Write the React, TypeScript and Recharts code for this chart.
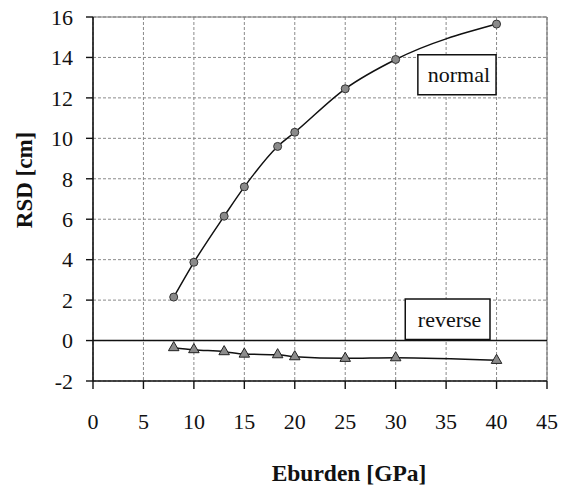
import React from 'react';
import {
  LineChart,
  Line,
  XAxis,
  YAxis,
  CartesianGrid,
  ReferenceLine,
  ReferenceArea,
  Symbols,
} from 'recharts';

const eburden = [8, 10, 13, 15, 18.3, 20, 25, 30, 40];
const normalRsd = [2.15, 3.87, 6.15, 7.6, 9.6, 10.3, 12.45, 13.9, 15.65];
const reverseRsd = [-0.35, -0.45, -0.55, -0.67, -0.7, -0.8, -0.88, -0.85, -0.98];
const xTicks = [0, 5, 10, 15, 20, 25, 30, 35, 40, 45];
const yTicks = [-2, 0, 2, 4, 6, 8, 10, 12, 14, 16];
const xTitle = 'Eburden [GPa]';
const yTitle = 'RSD [cm]';

const data = eburden.map((x, i) => ({ x, normal: normalRsd[i], reverse: reverseRsd[i] }));

const SERIF =
  '"Liberation Serif", "Times New Roman", Times, "DejaVu Serif", serif';

const TriangleDot = (props: any) => {
  const { cx, cy, index } = props;
  if (cx == null || cy == null) return <g key={index} />;
  return (
    <Symbols
      key={index}
      cx={cx}
      cy={cy}
      type="triangle"
      size={48}
      fill="#8c8c8c"
      stroke="#222"
      strokeWidth={1}
    />
  );
};

const boxLabel = (text: string) => (props: any) => {
  const vb = props.viewBox;
  return (
    <text
      x={vb.x + vb.width / 2 + 2}
      y={vb.y + vb.height / 2}
      textAnchor="middle"
      dominantBaseline="central"
      fontFamily={SERIF}
      fontSize={22}
      fill="#111"
    >
      {text}
    </text>
  );
};

const XTitle = (props: any) => {
  const vb = props.viewBox;
  return (
    <text
      x={vb.x + vb.width / 2 + 29}
      y={vb.y + vb.height - 5}
      textAnchor="middle"
      fontFamily={SERIF}
      fontWeight="bold"
      fontSize={23.5}
      fill="#111"
    >
      {xTitle}
    </text>
  );
};

const YTitle = (props: any) => {
  const vb = props.viewBox;
  const x = vb.x + 24;
  const y = vb.y + vb.height / 2 - 19;
  return (
    <text
      x={x}
      y={y}
      transform={`rotate(-90, ${x}, ${y})`}
      textAnchor="middle"
      dominantBaseline="central"
      fontFamily={SERIF}
      fontWeight="bold"
      fontSize={23}
      fill="#111"
    >
      {yTitle}
    </text>
  );
};

export default function App() {
  return (
    <div
      style={{
        position: 'absolute',
        left: 0,
        top: 0,
        width: 563,
        height: 486,
        background: '#fff',
        overflow: 'hidden',
        fontFamily: SERIF,
      }}
    >
      <LineChart
        width={563}
        height={486}
        data={data}
        margin={{ top: 17, right: 16, bottom: 0, left: 0 }}
      >
        <CartesianGrid stroke="#8a8a8a" strokeDasharray="3 2" strokeWidth={1} />
        <XAxis
          type="number"
          dataKey="x"
          domain={[0, 45]}
          ticks={xTicks}
          interval={0}
          height={105}
          tickSize={8}
          tickMargin={24}
          axisLine={{ stroke: '#111', strokeWidth: 1.6 }}
          tickLine={{ stroke: '#111', strokeWidth: 1.4 }}
          tick={{ fill: '#111', fontSize: 22, fontFamily: SERIF }}
          label={{ content: XTitle }}
        />
        <YAxis
          type="number"
          domain={[-2, 16]}
          ticks={yTicks}
          interval={0}
          width={93}
          tickSize={7}
          tickMargin={13}
          axisLine={{ stroke: '#111', strokeWidth: 1.6 }}
          tickLine={{ stroke: '#111', strokeWidth: 1.4 }}
          tick={{ fill: '#111', fontSize: 22, fontFamily: SERIF }}
          label={{ content: YTitle }}
        />
        <ReferenceLine y={16} stroke="#777" strokeWidth={1} />
        <ReferenceLine x={45} stroke="#777" strokeWidth={1.2} />
        <ReferenceLine y={0} stroke="#111" strokeWidth={1.6} />
        <ReferenceArea
          x1={32.2}
          x2={39.95}
          y1={12.15}
          y2={14.13}
          fill="#fff"
          fillOpacity={1}
          stroke="#111"
          strokeWidth={1.5}
          label={{ content: boxLabel('normal') }}
        />
        <ReferenceArea
          x1={30.95}
          x2={39.35}
          y1={0.05}
          y2={2.05}
          fill="#fff"
          fillOpacity={1}
          stroke="#111"
          strokeWidth={1.5}
          label={{ content: boxLabel('reverse') }}
        />
        <Line
          type="monotone"
          dataKey="normal"
          stroke="#111"
          strokeWidth={1.5}
          dot={{ r: 4, fill: '#8a8a8a', stroke: '#333', strokeWidth: 1 }}
          activeDot={false}
          isAnimationActive={false}
        />
        <Line
          type="monotone"
          dataKey="reverse"
          stroke="#111"
          strokeWidth={1.5}
          dot={TriangleDot}
          activeDot={false}
          isAnimationActive={false}
        />
      </LineChart>
    </div>
  );
}
